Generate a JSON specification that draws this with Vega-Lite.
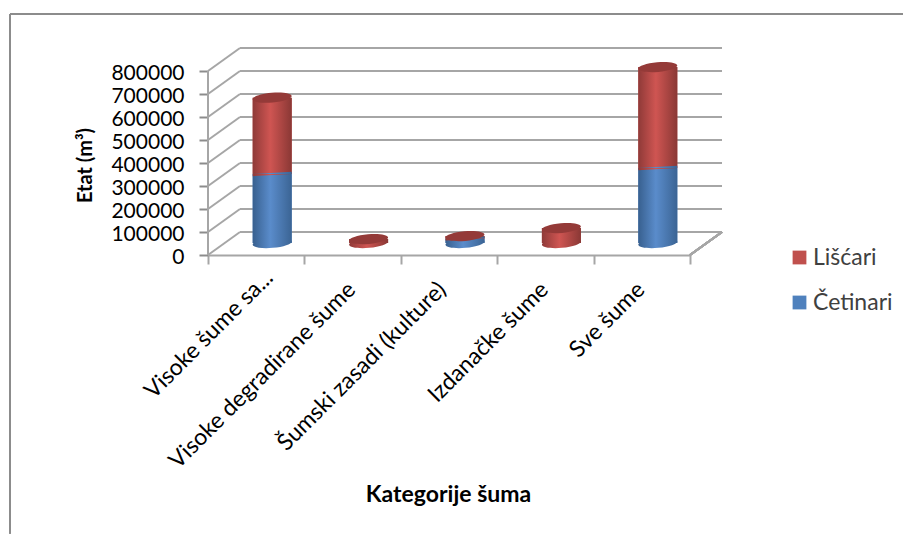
{"$schema":"https://vega.github.io/schema/vega-lite/v6.json","autosize":{"type":"none"},"padding":{"left":208,"top":48,"right":181,"bottom":279},"width":514,"height":207,"background":"white","config":{"font":"Lato","view":{"stroke":null},"axis":{"labelOverlap":false}},
"datasets":{"grid":[{"v":0},{"v":100000},{"v":200000},{"v":300000},{"v":400000},{"v":500000},{"v":600000},{"v":700000},{"v":800000}],
"bars":[{"category":"Visoke šume sa...","series":"Četinari","value":300000},{"category":"Visoke šume sa...","series":"Lišćari","value":332000},{"category":"Visoke degradirane šume","series":"Četinari","value":0},{"category":"Visoke degradirane šume","series":"Lišćari","value":17000},{"category":"Šumski zasadi (kulture)","series":"Četinari","value":20000},{"category":"Šumski zasadi (kulture)","series":"Lišćari","value":10000},{"category":"Izdanačke šume","series":"Četinari","value":0},{"category":"Izdanačke šume","series":"Lišćari","value":65000},{"category":"Sve šume","series":"Četinari","value":326000},{"category":"Sve šume","series":"Lišćari","value":439000}]},
"layer":[
{"data":{"name":"grid"},"layer":[
{"mark":{"type":"rule","stroke":"#a6a6a6","strokeWidth":2,"xOffset":32,"x2Offset":32,"yOffset":-23},"encoding":{"x":{"datum":0,"type":"quantitative","scale":{"domain":[0,514],"range":[0,514],"nice":false,"zero":false},"axis":null},"x2":{"datum":482},"y":{"field":"v","type":"quantitative","scale":{"domain":[0,900000],"nice":false},"axis":{"tickCount":9,"labelExpr":"datum.value>800000?'':format(datum.value,'d')","tickOpacity":{"condition":{"test":"datum.value>800000","value":0},"value":1},"format":"d","grid":false,"domain":false,"labelOverlap":false,"labelSeparation":-12,"tickColor":"#8c8c8c","tickWidth":2,"tickSize":9,"labelFontSize":21,"labelOffset":2,"labelColor":"#000000","labelPadding":15,"title":"Etat (m³)","titleFontSize":20,"titleFontWeight":"bold","titleColor":"#000000","titleX":-113,"titleY":117}}}},
{"mark":{"type":"rule","stroke":"#a6a6a6","strokeWidth":2,"y2Offset":-23},"encoding":{"x":{"datum":0,"type":"quantitative"},"x2":{"datum":32},"y":{"field":"v","type":"quantitative"},"y2":{"field":"v"}}},
{"mark":{"type":"rule","stroke":"#a6a6a6","strokeWidth":2},"encoding":{"x":{"datum":0,"type":"quantitative"},"y":{"datum":0,"type":"quantitative"},"y2":{"datum":800000}}},
{"mark":{"type":"rule","stroke":"#a6a6a6","strokeWidth":2,"y2Offset":-23},"encoding":{"x":{"datum":482,"type":"quantitative"},"x2":{"datum":514},"y":{"datum":0,"type":"quantitative"},"y2":{"datum":0}}},
{"mark":{"type":"rule","stroke":"#8c8c8c","strokeWidth":2,"clip":false},"encoding":{"x":{"datum":-198,"type":"quantitative"},"x2":{"datum":695},"y":{"datum":1047800,"type":"quantitative"}}},
{"mark":{"type":"rule","stroke":"#8c8c8c","strokeWidth":2,"clip":false},"encoding":{"x":{"datum":-198,"type":"quantitative"},"y":{"datum":1047800,"type":"quantitative"},"y2":{"datum":-1210000}}}
]},
{"data":{"name":"bars"},"transform":[{"stack":"value","groupby":["category"],"sort":[{"field":"series","order":"descending"}],"as":["y0","y1"]}],
"encoding":{"x":{"field":"category","type":"nominal","sort":null,"scale":{"range":[0,482],"paddingInner":0,"paddingOuter":0},"axis":{"orient":"bottom","labelAngle":-45,"labelFontSize":23,"labelColor":"#000000","labelLimit":400,"labelOverlap":false,"labelBound":false,"tickBand":"extent","tickColor":"#a6a6a6","tickWidth":2,"tickSize":9,"domainColor":"#a6a6a6","domainWidth":2,"labelPadding":{"condition":{"test":"datum.value=='Visoke šume sa...'","value":2},"value":14},"labelOffset":{"condition":[{"test":"datum.value=='Visoke šume sa...'","value":5},{"test":"datum.value=='Šumski zasadi (kulture)'","value":-15}],"value":-9},"title":"Kategorije šuma","titleFontSize":23,"titleFontWeight":"bold","titleColor":"#000000","titleX":240,"titleY":228}}},
"layer":[
{"mark":{"type":"bar","width":39,"xOffset":16,"yOffset":-12,"y2Offset":-12},"transform":[{"filter":"datum.value>0"}],"encoding":{"y":{"field":"y0","type":"quantitative"},"y2":{"field":"y1"},"color":{"field":"series","type":"nominal","scale":{"domain":["Lišćari","Četinari"],"range":["#c0504d","#4f81bd"]},"legend":{"orient":"none","legendX":580,"legendY":198,"title":null,"symbolType":"square","symbolSize":190,"labelFontSize":23,"labelColor":"#404040","rowPadding":21,"labelOffset":2}}}},
{"mark":{"type":"point","filled":true,"opacity":1,"size":1521,"xOffset":16,"yOffset":-12,"shape":"M-1,0.09A1,0.25,-5,1,1,1,-0.09A1,0.25,-5,1,1,-1,0.09Z","fill":{"gradient":"linear","x1":0,"x2":1,"y1":0,"y2":0,"stops":[{"offset":0,"color":"#38608f"},{"offset":0.45,"color":"#5a8ccb"},{"offset":1,"color":"#3b6494"}]}},"transform":[{"filter":"datum.series=='Četinari'&&datum.value>0"}],"encoding":{"y":{"field":"y0","type":"quantitative"}}},
{"mark":{"type":"bar","width":39,"xOffset":16,"yOffset":-12,"y2Offset":-12,"fill":{"gradient":"linear","x1":0,"x2":1,"y1":0,"y2":0,"stops":[{"offset":0,"color":"#38608f"},{"offset":0.45,"color":"#5a8ccb"},{"offset":1,"color":"#3b6494"}]}},"transform":[{"filter":"datum.series=='Četinari'&&datum.value>0"}],"encoding":{"y":{"field":"y0","type":"quantitative"},"y2":{"field":"y1"}}},
{"mark":{"type":"point","filled":true,"opacity":1,"size":1521,"xOffset":16,"yOffset":-12,"shape":"M-1,0.09A1,0.25,-5,1,1,1,-0.09A1,0.25,-5,1,1,-1,0.09Z","fill":{"gradient":"linear","x1":0,"x2":1,"y1":0,"y2":0,"stops":[{"offset":0,"color":"#8f3a38"},{"offset":0.45,"color":"#cf5552"},{"offset":1,"color":"#8a3835"}]}},"transform":[{"filter":"datum.series=='Lišćari'&&datum.y0==0"}],"encoding":{"y":{"field":"y0","type":"quantitative"}}},
{"mark":{"type":"bar","width":39,"xOffset":16,"yOffset":-12,"y2Offset":-12,"fill":{"gradient":"linear","x1":0,"x2":1,"y1":0,"y2":0,"stops":[{"offset":0,"color":"#8f3a38"},{"offset":0.45,"color":"#cf5552"},{"offset":1,"color":"#8a3835"}]}},"transform":[{"filter":"datum.series=='Lišćari'"}],"encoding":{"y":{"field":"y0","type":"quantitative"},"y2":{"field":"y1"}}},
{"mark":{"type":"point","filled":true,"opacity":1,"size":1521,"xOffset":16,"yOffset":-12,"shape":"M-1,0L1,0L-1,0.11Z","fill":{"gradient":"linear","x1":0,"x2":1,"y1":0,"y2":0,"stops":[{"offset":0,"color":"#8f3a38"},{"offset":0.45,"color":"#cf5552"},{"offset":1,"color":"#8a3835"}]}},"transform":[{"filter":"datum.series=='Lišćari'&&datum.y0>0"}],"encoding":{"y":{"field":"y0","type":"quantitative"}}},
{"mark":{"type":"point","filled":true,"opacity":1,"size":1521,"xOffset":16,"yOffset":-12,"shape":"M-1,0L1,0L1,-0.11Z","fill":{"gradient":"linear","x1":0,"x2":1,"y1":0,"y2":0,"stops":[{"offset":0,"color":"#38608f"},{"offset":0.45,"color":"#5a8ccb"},{"offset":1,"color":"#3b6494"}]}},"transform":[{"filter":"datum.series=='Lišćari'&&datum.y0>0"}],"encoding":{"y":{"field":"y0","type":"quantitative"}}},
{"mark":{"type":"point","filled":true,"opacity":1,"size":1521,"xOffset":16,"yOffset":-12,"shape":"M-1,0.09A1,0.25,-5,1,1,1,-0.09A1,0.25,-5,1,1,-1,0.09Z","fill":"#943a38"},"transform":[{"filter":"datum.series=='Lišćari'"}],"encoding":{"y":{"field":"y1","type":"quantitative"}}}
]}
],
"resolve":{"scale":{"x":"independent"}}}
